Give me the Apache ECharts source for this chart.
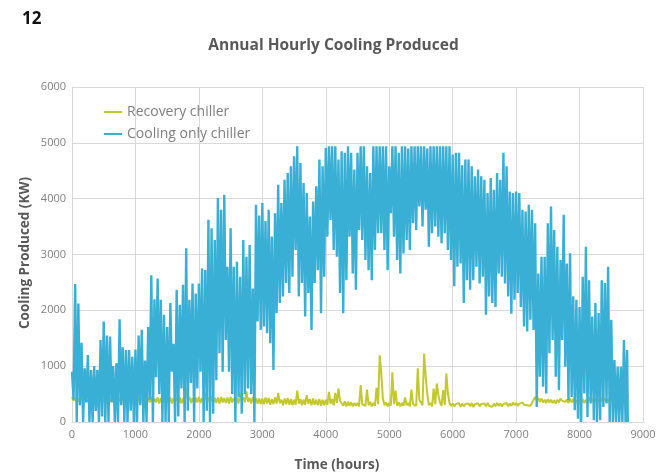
<!DOCTYPE html>
<html>
<head>
<meta charset="utf-8">
<script src="https://cdn.jsdelivr.net/npm/echarts@6/dist/echarts.min.js"></script>
<style>
  html, body { margin: 0; padding: 0; background: #ffffff; }
  #chart { width: 667px; height: 476px; }
</style>
</head>
<body>
<div id="chart"></div>
<script>
// Hourly cooling output over one year (8760 h), kW.
// Each series alternates between its daily high and daily low readings:
// highs sit on a 50 h grid, lows halfway between.

const xTicks = [0, 1000, 2000, 3000, 4000, 5000, 6000, 7000, 8000, 9000];
const yTicks = [0, 1000, 2000, 3000, 4000, 5000, 6000];

// Cooling only chiller: highs at 0, 50, 100 … 8750 h
const coolingHigh = [
  900,2470,2120,1420,960,1200,930,1000,930,1470,
  1800,1550,1530,1000,1050,1840,1340,1290,1290,1170,
  1300,1550,1650,1100,1700,2630,2200,2570,2190,1920,
  1700,2130,1400,2370,2100,2460,3110,2190,2480,2300,
  2480,2750,2720,3620,3470,3260,4010,3800,4070,2780,
  3470,2780,2870,2600,3260,2960,3170,2390,3890,3700,
  3920,3600,3800,3320,3740,4250,3920,4340,4460,4580,
  4760,4940,4640,4280,4100,3680,3950,4220,4700,4580,
  4910,4940,4940,4940,4700,4850,4820,4940,4820,4520,
  4820,4940,4940,4580,4460,4940,4940,4940,4940,4940,
  4580,4940,4940,4820,4940,4940,4900,4940,4940,4940,
  4940,4940,4900,4940,4940,4940,4940,4940,4940,4940,
  4790,4820,4820,4600,4700,4700,4580,4400,4520,4400,
  4340,4100,4370,4160,4460,4340,4820,4580,4130,4100,
  4130,4100,3800,3770,3890,3800,3560,2660,2960,2960,
  3560,3860,3440,3140,2900,3710,2840,3020,2250,2190,
  2060,2600,3140,2540,1890,2130,1950,2540,2490,2780,
  1830,1110,990,990,1470,1290
];
// Cooling only chiller: lows at 25, 75, 125 … 8760 h
const coolingLow = [
  400,0,300,0,350,0,0,200,0,100,
  0,0,350,0,0,300,0,0,200,0,
  0,300,0,0,400,0,800,500,0,0,
  0,900,0,100,600,0,200,700,0,600,
  900,0,200,0,150,750,1230,900,1470,900,
  500,0,450,150,500,600,500,0,1800,1650,
  1710,1590,1410,930,1950,2130,2250,2490,2310,2600,
  3080,2250,2490,1890,2310,1650,2490,2720,1950,2600,
  3320,3620,3080,2960,2310,1950,2540,3320,2660,2370,
  3440,3260,2900,2720,2540,3080,3380,3380,3080,2720,
  3740,3320,2900,2660,3020,3260,3080,3560,3440,3860,
  3500,3800,3140,3380,3500,3320,3200,3380,3080,2900,
  2430,2780,2840,2130,2540,2370,2540,2780,2480,2600,
  1920,2250,2130,2060,2660,2600,2480,2250,1940,2190,
  2310,2060,1710,1620,1830,1650,270,810,630,510,
  1230,1470,810,570,1470,990,390,450,210,60,
  0,510,90,330,30,0,30,270,330,0,
  0,0,0,0,0,0
];

// Recovery chiller: highs at 0, 50, 100 … 8750 h
const recoveryHigh = [
  450,430,420,460,520,430,870,600,450,440,
  420,440,430,420,450,430,440,420,430,440,
  420,430,440,420,430,450,420,440,430,450,
  420,440,430,450,440,430,600,450,430,440,
  450,430,520,440,460,430,440,450,430,440,
  450,430,440,520,440,550,430,450,430,420,
  420,440,430,410,440,520,400,420,430,410,
  400,560,410,400,480,410,420,400,410,400,
  400,540,410,520,600,380,370,360,350,340,
  340,660,350,580,360,340,610,1195,420,350,
  340,890,560,350,340,440,340,580,340,960,
  350,1225,500,340,600,690,350,570,870,340,
  330,320,340,330,320,330,340,320,330,320,
  330,340,320,330,340,330,320,340,330,350,
  340,330,350,340,330,340,450,430,420,400,
  410,400,390,400,420,410,400,420,410,390,
  420,410,400,430,410,420,400,430,420,410,
  430,420,440,430,450,540
];
// Recovery chiller: lows at 25, 75, 125 … 8760 h
const recoveryLow = [
  380,360,350,370,400,350,700,420,360,350,
  340,350,360,340,350,340,360,340,350,340,
  350,340,360,330,350,340,350,330,340,350,
  340,330,350,340,330,360,400,340,330,350,
  340,350,380,330,350,340,330,350,340,330,
  350,340,330,380,350,360,330,340,330,320,
  320,330,310,320,330,340,300,320,310,300,
  310,330,300,310,330,300,310,300,290,300,
  310,330,300,340,380,290,280,290,280,290,
  280,320,290,300,280,290,320,870,300,280,
  290,320,290,280,290,300,280,320,290,400,
  300,810,300,280,320,480,290,300,510,290,
  280,290,270,280,290,280,270,290,280,290,
  280,290,270,280,290,280,290,280,290,300,
  290,300,310,300,290,320,380,360,350,340,
  350,340,330,350,380,360,340,350,340,330,
  360,340,350,370,350,360,340,380,350,360,
  370,360,380,370,400,420
];

const HOURS_IN_YEAR = 8760;
const READING_STEP = 50;

// Merge high/low readings into one time-ordered [hour, kW] list
function interleave(highs, lows, step) {
  const out = [];
  for (let i = 0; i < highs.length; i++) {
    out.push([i * step, highs[i]]);
    if (i < lows.length) {
      out.push([Math.min(i * step + step / 2, HOURS_IN_YEAR), lows[i]]);
    }
  }
  return out;
}

const coolingData = interleave(coolingHigh, coolingLow, READING_STEP);
const recoveryData = interleave(recoveryHigh, recoveryLow, READING_STEP);

const GRID_COLOR = '#d9d9d9';
const LABEL_COLOR = '#808080';
const NAME_COLOR = '#595959';
const FONT = '"Open Sans"';

const chart = echarts.init(document.getElementById('chart'), null, { renderer: 'canvas' });

chart.setOption({
  animation: false,
  backgroundColor: '#ffffff',
  title: {
    text: 'Annual Hourly Cooling Produced',
    left: 'center',
    top: 33,
    textStyle: { color: NAME_COLOR, fontSize: 15.5, fontWeight: 'bold', fontFamily: 'Open Sans' }
  },
  graphic: [
    {
      type: 'text',
      left: 22,
      top: 11,
      style: { text: '12', fill: '#111111', font: 'bold 17px ' + FONT }
    },
    {
      type: 'text',
      x: 337,
      y: 465,
      style: {
        text: 'Time (hours)', fill: NAME_COLOR, font: 'bold 13.5px ' + FONT,
        textAlign: 'center', textVerticalAlign: 'middle'
      }
    },
    {
      type: 'text',
      x: 25,
      y: 253,
      rotation: Math.PI / 2,
      style: {
        text: 'Cooling Produced (KW)', fill: NAME_COLOR, font: 'bold 13.5px ' + FONT,
        textAlign: 'center', textVerticalAlign: 'middle'
      }
    }
  ],
  legend: {
    orient: 'vertical',
    left: 99,
    top: 100,
    itemGap: 8,
    itemWidth: 18,
    itemHeight: 2,
    icon: 'rect',
    textStyle: { color: LABEL_COLOR, fontSize: 14, fontFamily: 'Open Sans' },
    data: ['Recovery chiller', 'Cooling only chiller']
  },
  grid: { left: 72, right: 24, top: 87, bottom: 54, containLabel: false },
  xAxis: {
    type: 'value',
    min: xTicks[0],
    max: xTicks[xTicks.length - 1],
    interval: 1000,
    axisLine: { lineStyle: { color: GRID_COLOR, width: 1 } },
    axisTick: { show: false },
    axisLabel: { color: LABEL_COLOR, fontSize: 11, margin: 7, fontFamily: 'Open Sans', formatter: v => String(v) },
    splitLine: { show: true, lineStyle: { color: GRID_COLOR, width: 1 } }
  },
  yAxis: {
    type: 'value',
    min: yTicks[0],
    max: yTicks[yTicks.length - 1],
    interval: 1000,
    axisLine: { show: true, lineStyle: { color: GRID_COLOR, width: 1 } },
    axisTick: { show: false },
    axisLabel: { color: LABEL_COLOR, fontSize: 11, margin: 6, fontFamily: 'Open Sans', formatter: v => String(v) },
    splitLine: { show: true, lineStyle: { color: GRID_COLOR, width: 1 } }
  },
  series: [
    {
      name: 'Recovery chiller',
      type: 'line',
      data: recoveryData,
      showSymbol: false,
      sampling: 'none',
      lineStyle: { color: '#c3c82c', width: 2, join: 'bevel' },
      itemStyle: { color: '#c3c82c' },
      z: 2
    },
    {
      name: 'Cooling only chiller',
      type: 'line',
      data: coolingData,
      showSymbol: false,
      sampling: 'none',
      lineStyle: { color: '#3aafd6', width: 2.4, join: 'bevel' },
      itemStyle: { color: '#3aafd6' },
      z: 3
    }
  ]
});
</script>
</body>
</html>
